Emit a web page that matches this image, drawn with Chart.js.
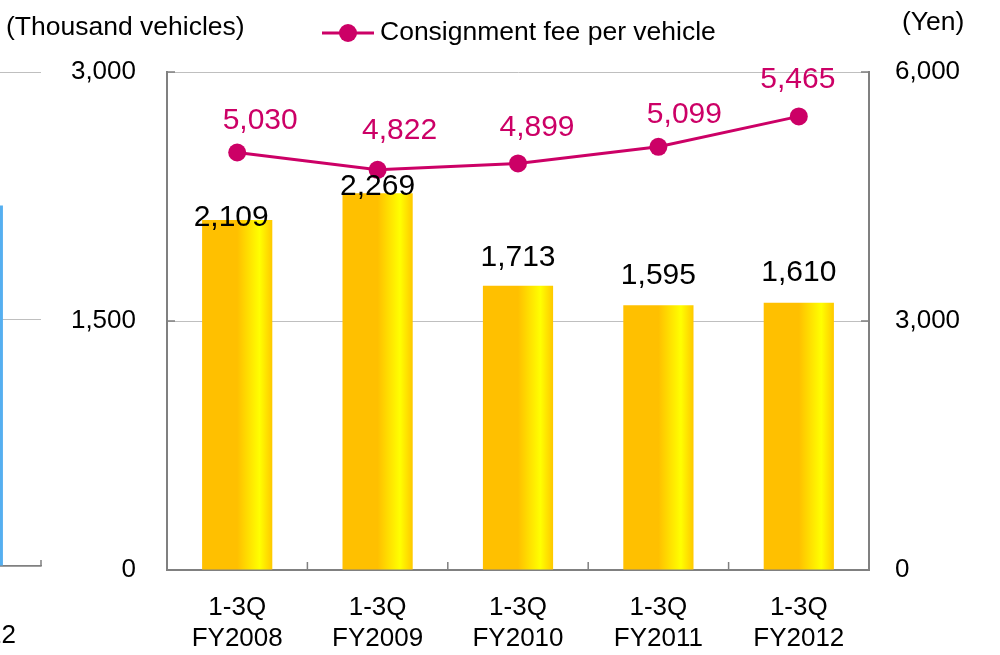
<!DOCTYPE html>
<html>
<head>
<meta charset="utf-8">
<script src="https://cdn.jsdelivr.net/npm/chart.js@4.4.1/dist/chart.umd.min.js"></script>
<style>
  html, body { margin: 0; padding: 0; background: #fff; }
  #wrap { position: relative; width: 1000px; height: 655px; overflow: hidden; background: #fff; }
  #prev { position: absolute; left: -100px; top: 0; }
  #main { position: absolute; left: 0; top: 0; }
</style>
</head>
<body>
<div id="wrap">
  <canvas id="prev" width="142" height="655"></canvas>
  <canvas id="main" width="1000" height="655"></canvas>
</div>
<script>
// 1-3Q results, bars = handled vehicles (thousand), line = fee per vehicle (yen)
const categories = [['1-3Q', 'FY2008'], ['1-3Q', 'FY2009'], ['1-3Q', 'FY2010'], ['1-3Q', 'FY2011'], ['1-3Q', 'FY2012']];
const vehicles = [2109, 2269, 1713, 1595, 1610];
const feePerVehicle = [5030, 4822, 4899, 5099, 5465];
const leftTicks = [0, 1500, 3000];
const rightTicks = [0, 3000, 6000];

// the neighbouring chart on the slide, only its right edge shows
const prevCategories = [['1-3Q', 'FY2012']];
const prevValues = [2190];

const PINK = '#CC0066';
const AXIS = '#808080';
const GRID = '#BFBFBF';
const FONT = '"Liberation Sans", Arial, sans-serif';

Chart.defaults.font.family = FONT;
Chart.defaults.font.size = 26;
Chart.defaults.color = '#000';

// horizontal orange -> yellow sheen on each bar
function barFill(c) {
    const chart = c.chart;
    const xs = chart.scales.x;
    if (c.dataIndex === undefined || !xs || !xs.ticks.length) return '#FFC000';
    const mid = xs.getPixelForValue(c.dataIndex);
    const half = xs.width / xs.ticks.length * 0.25;
    const g = chart.ctx.createLinearGradient(mid - half, 0, mid + half, 0);
    g.addColorStop(0, '#FFC000');
    g.addColorStop(0.5, '#FFC000');
    g.addColorStop(0.82, '#FFFF00');
    g.addColorStop(1, '#FFC800');
    return g;
}

// tick marks pointing into the plot
Chart.register({
    id: 'innerTicks',
    afterDraw(chart, args, opts) {
        if (!opts.len) return;
        const { ctx, chartArea: a } = chart;
        const xs = chart.scales.x;
        const step = xs.width / xs.ticks.length;
        ctx.save();
        ctx.strokeStyle = AXIS;
        ctx.lineWidth = 1.5;
        ctx.beginPath();
        for (let i = 0; i <= xs.ticks.length; i++) {
            const x = xs.left + step * i;
            ctx.moveTo(x, a.bottom);
            ctx.lineTo(x, a.bottom - opts.len);
        }
        (opts.yAxes || []).forEach(id => {
            const s = chart.scales[id];
            s.ticks.forEach(t => {
                const y = s.getPixelForValue(t.value);
                if (s.position === 'left') {
                    ctx.moveTo(a.left, y);
                    ctx.lineTo(a.left + opts.len, y);
                } else {
                    ctx.moveTo(a.right, y);
                    ctx.lineTo(a.right - opts.len, y);
                }
            });
        });
        ctx.stroke();
        ctx.restore();
    }
});

// value labels, hand placed like on the slide
Chart.register({
    id: 'valueLabels',
    afterDatasetsDraw(chart, args, opts) {
        if (!opts.sets) return;
        const ctx = chart.ctx;
        opts.sets.forEach(s => {
            const meta = chart.getDatasetMeta(s.dataset);
            const values = chart.data.datasets[s.dataset].data;
            ctx.save();
            ctx.font = `${s.size}px ${FONT}`;
            ctx.fillStyle = s.color;
            ctx.textAlign = 'center';
            ctx.textBaseline = 'middle';
            meta.data.forEach((el, i) => {
                ctx.fillText(values[i].toLocaleString('en-US'), el.x + s.dx[i], el.y - s.dy[i]);
            });
            ctx.restore();
        });
    }
});

// unit captions and the legend entry
Chart.register({
    id: 'chartText',
    afterDraw(chart, args, opts) {
        if (!opts.legend) return;
        const ctx = chart.ctx;
        const ds = chart.data.datasets[0];
        ctx.save();
        ctx.font = `26.5px ${FONT}`;
        ctx.fillStyle = '#000';
        ctx.textBaseline = 'middle';
        ctx.textAlign = 'left';
        ctx.fillText(opts.leftUnit, 6, 28);
        ctx.fillText(opts.rightUnit, 902, 23);

        const lx = 322, ly = 33;
        ctx.strokeStyle = ds.borderColor;
        ctx.lineWidth = 3;
        ctx.beginPath();
        ctx.moveTo(lx, ly);
        ctx.lineTo(lx + 52, ly);
        ctx.stroke();
        ctx.fillStyle = ds.borderColor;
        ctx.beginPath();
        ctx.arc(lx + 26, ly, 9, 0, Math.PI * 2);
        ctx.fill();
        ctx.fillStyle = '#000';
        ctx.fillText(ds.label, 380, ly);
        ctx.restore();
    }
});

new Chart(document.getElementById('prev'), {
    type: 'bar',
    data: {
        labels: prevCategories,
        datasets: [{
            data: prevValues,
            backgroundColor: '#55AFF0',
            borderWidth: 0,
            barPercentage: 0.46,
            categoryPercentage: 1
        }]
    },
    options: {
        responsive: false,
        animation: false,
        layout: { padding: { top: 72, right: 1, left: 0, bottom: 0 } },
        plugins: {
            legend: { display: false },
            tooltip: { enabled: false },
            innerTicks: { len: 6 }
        },
        scales: {
            x: {
                offset: true,
                grid: { display: false, drawTicks: false },
                border: { color: AXIS, width: 1.5 },
                ticks: { padding: 23, maxRotation: 0, autoSkip: false },
                afterFit: s => { s.height = 89; }
            },
            y: {
                min: 0,
                max: 3000,
                afterBuildTicks: s => { s.ticks = leftTicks.map(v => ({ value: v })); },
                grid: { color: GRID, drawTicks: false },
                border: { display: false },
                ticks: { display: false },
                afterFit: s => { s.width = 0; }
            }
        }
    }
});

new Chart(document.getElementById('main'), {
    type: 'bar',
    data: {
        labels: categories,
        datasets: [
            {
                type: 'line',
                label: 'Consignment fee per vehicle',
                data: feePerVehicle,
                yAxisID: 'y1',
                borderColor: PINK,
                backgroundColor: PINK,
                borderWidth: 3,
                pointRadius: 9,
                pointBorderWidth: 0,
                pointBackgroundColor: PINK,
                pointBorderColor: PINK,
                tension: 0,
                order: 0
            },
            {
                type: 'bar',
                label: 'Vehicles handled',
                data: vehicles,
                yAxisID: 'y',
                backgroundColor: barFill,
                borderWidth: 0,
                barPercentage: 0.5,
                categoryPercentage: 1,
                order: 1
            }
        ]
    },
    options: {
        responsive: false,
        animation: false,
        layout: { padding: { top: 72, left: 0, right: 0, bottom: 0 } },
        plugins: {
            legend: { display: false },
            tooltip: { enabled: false },
            innerTicks: { len: 8, yAxes: ['y', 'y1'] },
            valueLabels: {
                sets: [
                    { dataset: 0, color: PINK, size: 30, dx: [23, 22, 19, 26, -1], dy: [32, 39, 36, 32, 37] },
                    { dataset: 1, color: '#000', size: 30, dx: [-6, 0, 0, 0, 0], dy: [2, 7, 28, 29, 30] }
                ]
            },
            chartText: { legend: true, leftUnit: '(Thousand vehicles)', rightUnit: '(Yen)' }
        },
        scales: {
            x: {
                offset: true,
                grid: { display: false, drawTicks: false },
                border: { color: AXIS, width: 2 },
                ticks: { padding: 22, maxRotation: 0, autoSkip: false },
                afterFit: s => { s.height = 85; }
            },
            y: {
                position: 'left',
                min: 0,
                max: 3000,
                afterBuildTicks: s => { s.ticks = leftTicks.map(v => ({ value: v })); },
                grid: { color: GRID, drawTicks: false },
                border: { color: AXIS, width: 2 },
                ticks: { padding: 31, callback: v => v.toLocaleString('en-US') },
                afterFit: s => { s.width = 167; }
            },
            y1: {
                position: 'right',
                min: 0,
                max: 6000,
                afterBuildTicks: s => { s.ticks = rightTicks.map(v => ({ value: v })); },
                grid: { display: false, drawTicks: false },
                border: { color: AXIS, width: 2 },
                ticks: { padding: 26, callback: v => v.toLocaleString('en-US') },
                afterFit: s => { s.width = 131; }
            }
        }
    }
});
</script>
</body>
</html>
